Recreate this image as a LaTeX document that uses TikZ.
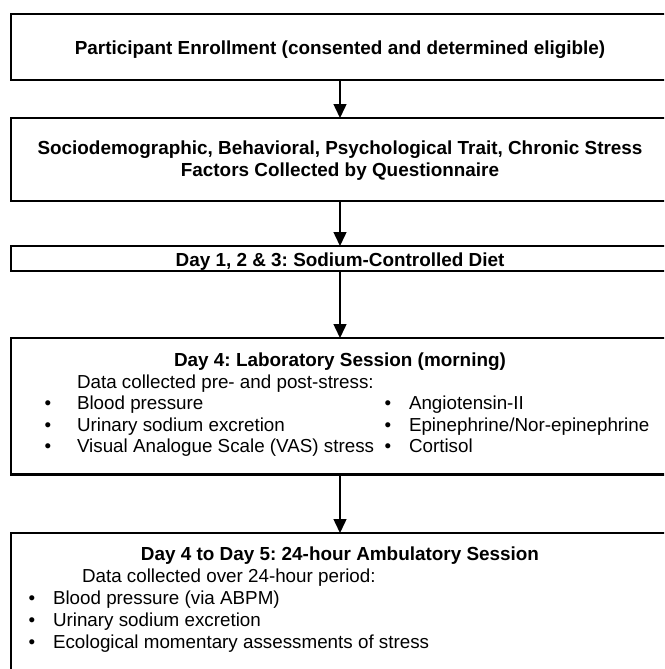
\documentclass[tikz,border=0pt]{standalone}
\usepackage{fontspec}
\setmainfont{Liberation Sans}
\usetikzlibrary{arrows.meta}
\begin{document}
\frenchspacing
\begin{tikzpicture}[x=1pt,y=-1pt,
  box/.style={draw, line width=2.8pt, inner sep=0pt, outer sep=0pt, minimum width=658pt},
  txt/.style={inner sep=0pt, outer sep=0pt, font=\fontsize{18.8}{21}\selectfont},
  ttl/.style={inner sep=0pt, outer sep=0pt, anchor=base, font=\fontsize{18.9}{21}\selectfont\bfseries},
  item/.style={txt, anchor=base west},
  bdot/.style={txt, anchor=base},
  flow/.style={line width=1.5pt, -{Triangle[width=13pt,length=14pt]}}]
\clip (0,0) rectangle (664,669);
% boxes
\node[box, minimum height=66pt]  (b1) at (340,47) {};
\node[box, minimum height=83pt]  (b2) at (340,159.5) {};
\node[box, minimum height=25pt]  (b3) at (340,258.5) {};
\node[box, minimum height=136.5pt] (b4) at (340,406.25) {};
\node[box, minimum height=160pt] (b5) at (340,613) {};
% connectors
\draw[flow] (b1.south) -- (b2.north);
\draw[flow] (b2.south) -- (b3.north);
\draw[flow] (b3.south) -- (b4.north);
\draw[flow] (b4.south) -- (b5.north);
% box 1
\node[ttl] (t1) at (340,54.5) {Participant Enrollment (consented and determined eligible)};
% box 2
\node[ttl] (t2a) at (340,154.5) {Sociodemographic, Behavioral, Psychological Trait, Chronic Stress};
\node[ttl] (t2b) at (340,176.5) {Factors Collected by Questionnaire};
% box 3
\node[ttl] (t3) at (340,266.5) {Day 1, 2 \& 3: Sodium-Controlled Diet};
% box 4
\node[ttl] (t4) at (340,366.5) {Day 4: Laboratory Session (morning)};
\node[item] (t4d) at (77,388) {Data collected pre- and post-stress:};
\node[bdot] (d41) at (48,409.5) {•};
\node[bdot] (d42) at (48,431) {•};
\node[bdot] (d43) at (48,452.5) {•};
\node[item] (l41) at (77,409.5) {Blood pressure};
\node[item] (l42) at (77,431) {Urinary sodium excretion};
\node[item] (l43) at (77,452.5) {Visual Analogue Scale (VAS) stress};
\node[bdot] (e41) at (388,409.5) {•};
\node[bdot] (e42) at (388,431) {•};
\node[bdot] (e43) at (388,452.5) {•};
\node[item] (r41) at (409,409.5) {Angiotensin-II};
\node[item] (r42) at (409,431) {Epinephrine/Nor-epinephrine};
\node[item] (r43) at (409,452.5) {Cortisol};
% box 5
\node[ttl] (t5) at (340,560.5) {Day 4 to Day 5: 24-hour Ambulatory Session};
\node[item] (t5d) at (82,582.5) {Data collected over 24-hour period:};
\node[bdot] (d51) at (32,604.5) {•};
\node[bdot] (d52) at (32,626.5) {•};
\node[bdot] (d53) at (32,648.5) {•};
\node[item] (l51) at (53,604.5) {Blood pressure (via ABPM)};
\node[item] (l52) at (53,626.5) {Urinary sodium excretion};
\node[item] (l53) at (53,648.5) {Ecological momentary assessments of stress};
\end{tikzpicture}
\end{document}
